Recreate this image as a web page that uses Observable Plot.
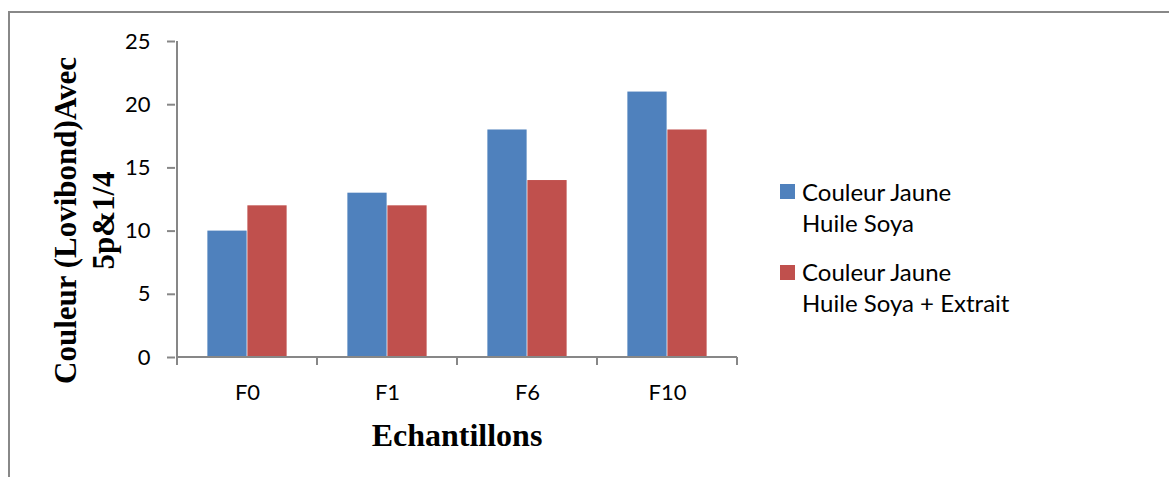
<!DOCTYPE html>
<html>
<head>
<meta charset="utf-8">
<script src="https://cdn.jsdelivr.net/npm/d3@7"></script>
<script src="https://cdn.jsdelivr.net/npm/@observablehq/plot@0.6"></script>
<style>
  html, body { margin: 0; padding: 0; background: #fff; overflow: hidden; }
  #chart { position: relative; width: 1169px; height: 477px; overflow: hidden; background: #fff; }
  #chart svg { position: absolute; left: 0; top: 0; }
  #border { position: absolute; left: 8px; top: 11px; width: 1400px; height: 700px;
            border-left: 2px solid #888; border-top: 2px solid #888; pointer-events: none; }
  .legend-item { position: absolute; left: 780px; font-family: "Lato", sans-serif;
                 font-size: 24px; line-height: 31px; color: #000; }
  .legend-swatch { position: absolute; left: 0; width: 15px; height: 15px; }
  .legend-text { position: absolute; left: 22px; top: 0; white-space: nowrap; }
</style>
</head>
<body>
<div id="chart"></div>
<script>
// Lovibond yellow colour per sample, with and without the extract
const categories = ["F0", "F1", "F6", "F10"];
const soya = [10, 13, 18, 21];
const soyaExtrait = [12, 12, 14, 18];
const seriesNames = ["Couleur Jaune\nHuile Soya", "Couleur Jaune\nHuile Soya + Extrait"];
const seriesColors = ["#4F81BD", "#C0504D"];
const yTicks = [0, 5, 10, 15, 20, 25];
const xTitle = "Echantillons";
const yTitle = "Couleur (Lovibond)Avec\n5p&1/4";

const axisGray = "#878787";
const W = 1169, H = 477;
const ML = 175, MR = 431, MT = 41, MB = 120;
const bandW = (W - ML - MR) / categories.length;
const barW = 40;
const outerInset = bandW / 2 - barW;

const rows = categories.map((c, i) => ({category: c, soya: soya[i], extrait: soyaExtrait[i]}));

// axis lines plus the category boundary ticks below the baseline
function axisLines(index, {x, y}) {
  const g = d3.create("svg:g")
    .attr("stroke", axisGray).attr("stroke-width", 2).attr("fill", "none");
  const y0 = y(0), yTop = y(d3.max(yTicks));
  const step = x(categories[1]) - x(categories[0]);
  const edges = categories.map(c => x(c)).concat(x(categories[categories.length - 1]) + step);
  const left = edges[0], right = edges[edges.length - 1];
  g.append("line").attr("x1", left).attr("x2", left).attr("y1", yTop).attr("y2", y0);
  g.append("line").attr("x1", left).attr("x2", right).attr("y1", y0).attr("y2", y0);
  for (const e of edges) {
    g.append("line").attr("x1", e).attr("x2", e).attr("y1", y0).attr("y2", y0 + 8);
  }
  return g.node();
}

const chart = Plot.plot({
  width: W,
  height: H,
  marginLeft: ML,
  marginRight: MR,
  marginTop: MT,
  marginBottom: MB,
  style: {fontFamily: "Lato, sans-serif", fontSize: "22px", background: "transparent", color: "#000"},
  x: {domain: categories, padding: 0, axis: null},
  y: {domain: [0, 25], axis: null},
  marks: [
    Plot.barY(rows, {x: "category", y: "soya", fill: seriesColors[0],
                     insetLeft: outerInset, insetRight: bandW / 2}),
    Plot.barY(rows, {x: "category", y: "extrait", fill: seriesColors[1],
                     insetLeft: bandW / 2, insetRight: outerInset}),
    axisLines,
    Plot.axisY({ticks: yTicks, tickSize: 8, tickPadding: 17, stroke: axisGray,
                strokeWidth: 2, fill: "#000", label: null}),
    Plot.axisX({tickSize: 0, tickPadding: 27, fill: "#000", label: null}),
    Plot.text([yTitle], {text: d => d, frameAnchor: "left", rotate: -90, dx: -93, dy: 21,
                         fontFamily: "Liberation Serif", fontWeight: "bold", fontSize: 31,
                         lineHeight: 1.25, textAnchor: "middle", lineAnchor: "middle", fill: "#000"}),
    Plot.text([xTitle], {text: d => d, frameAnchor: "bottom", dy: 78,
                         fontFamily: "Liberation Serif", fontWeight: "bold", fontSize: 32,
                         lineAnchor: "middle", fill: "#000"})
  ]
});

const root = document.getElementById("chart");
root.appendChild(chart);

// legend on the right
const legendTops = [176, 256];
const swatchOffsets = [8, 9];
seriesNames.forEach((name, i) => {
  const item = document.createElement("div");
  item.className = "legend-item";
  item.style.top = legendTops[i] + "px";
  const sw = document.createElement("div");
  sw.className = "legend-swatch";
  sw.style.background = seriesColors[i];
  sw.style.top = swatchOffsets[i] + "px";
  const tx = document.createElement("div");
  tx.className = "legend-text";
  tx.innerHTML = name.split("\n").join("<br>");
  item.appendChild(sw);
  item.appendChild(tx);
  root.appendChild(item);
});

const border = document.createElement("div");
border.id = "border";
root.appendChild(border);
</script>
</body>
</html>
